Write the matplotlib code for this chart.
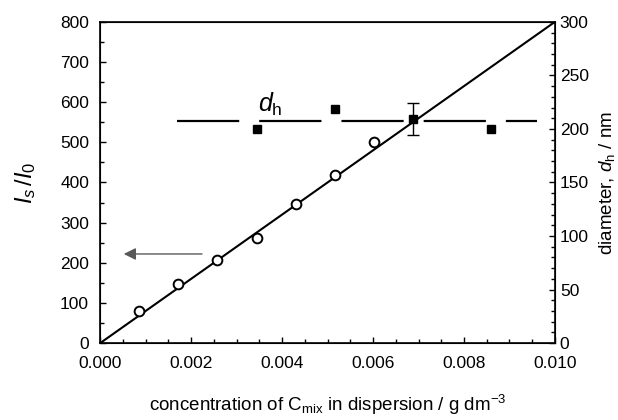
import numpy as np
import matplotlib.pyplot as plt
from matplotlib.ticker import MultipleLocator

plt.rcParams['font.family'] = ['Liberation Sans', 'DejaVu Sans']
plt.rcParams['mathtext.fontset'] = 'custom'
plt.rcParams['mathtext.rm'] = 'Liberation Sans'
plt.rcParams['mathtext.it'] = 'Liberation Sans:italic'

# scattering intensity ratio vs concentration
conc = [0.00086, 0.00172, 0.00258, 0.00344, 0.00430, 0.00516, 0.00602]
ratio = [80, 148, 208, 262, 347, 418, 500]

# hydrodynamic diameter
conc_d = [0.00344, 0.00516, 0.00688, 0.00860]
diam = [200, 219, 209, 200]
err_x, err_y, err_size = 0.00688, 209, 15
diam_mean = 207

fit_x = [0.0, 0.010]
fit_slope = 80000

fig = plt.figure(figsize=(6.18, 4.2), dpi=100)
ax = fig.add_axes([0.162, 0.183, 0.736, 0.765])

ax.plot(fit_x, np.array(fit_x) * fit_slope, color='black', lw=1.5, zorder=2)
ax.plot(conc, ratio, 'o', mfc='white', mec='black', mew=1.4, ms=7, zorder=3)

ax.annotate('', xy=(0.00052, 222), xytext=(0.00224, 222),
            arrowprops=dict(arrowstyle='-|>', color='0.35', lw=1.0,
                            mutation_scale=18, shrinkA=0, shrinkB=0))

ax.set_xlim(0, 0.010)
ax.set_ylim(0, 800)
ax.xaxis.set_major_locator(MultipleLocator(0.002))
ax.xaxis.set_minor_locator(MultipleLocator(0.0005))
ax.yaxis.set_major_locator(MultipleLocator(100))
ax.yaxis.set_minor_locator(MultipleLocator(50))
ax.xaxis.set_major_formatter(plt.FormatStrFormatter('%.3f'))
ax.tick_params(which='both', direction='in', labelsize=12.5, width=1.0)
ax.tick_params(which='major', length=4)
ax.tick_params(which='minor', length=3)
ax.tick_params(axis='x', pad=9)
ax.tick_params(axis='y', pad=8)
for s in ax.spines.values():
    s.set_linewidth(1.2)

ax.set_ylabel(r'$I_s\,/I_0$', fontsize=17, labelpad=16)
ax.set_xlabel(r'concentration of C$_{\mathrm{mix}}$ in dispersion / g dm$^{-3}$',
              fontsize=13.5, labelpad=16)

ax2 = ax.twinx()
ax2.set_ylim(0, 300)
ax2.yaxis.set_major_locator(MultipleLocator(50))
ax2.yaxis.set_minor_locator(MultipleLocator(10))
ax2.tick_params(which='both', direction='in', labelsize=12.5, width=1.0)
ax2.tick_params(which='major', length=4)
ax2.tick_params(which='minor', length=3)
ax2.plot([0.0017, 0.0096], [diam_mean, diam_mean], color='black', lw=1.6,
         dashes=(28, 9), zorder=2)
ax2.plot(conc_d, diam, 's', color='black', ms=5.5, zorder=3)
ax2.errorbar([err_x], [err_y], yerr=[err_size], fmt='none', ecolor='black',
             capsize=4, elinewidth=1.0, capthick=1.0, zorder=3)
ax2.text(0.00375, 210, r'$d_{\mathrm{h}}$', fontsize=18, ha='center', va='bottom')
ax2.set_ylabel(r'diameter, $d_{\mathrm{h}}$ / nm', fontsize=13.5, labelpad=6)

fig.savefig('out.png', dpi=100)
